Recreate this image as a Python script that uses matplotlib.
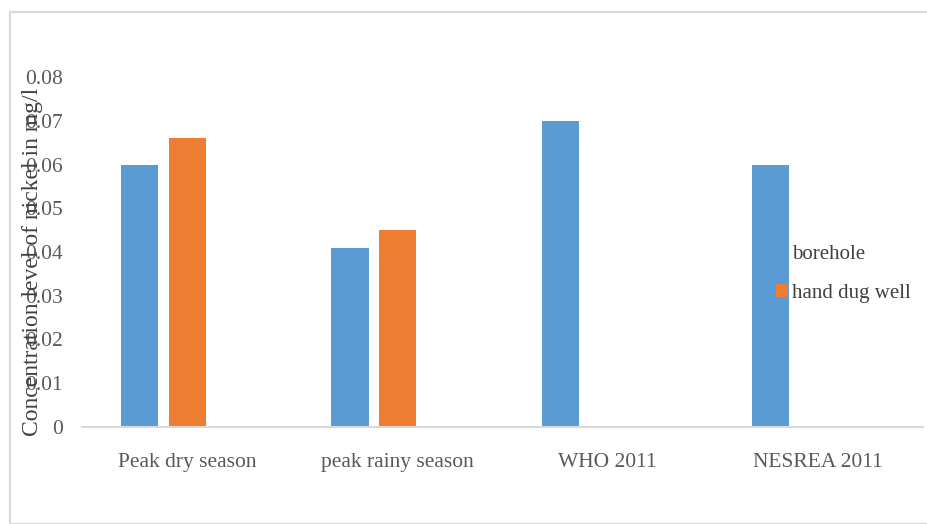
import numpy as np
import matplotlib
matplotlib.use("Agg")
import matplotlib.pyplot as plt
from matplotlib.patches import Rectangle

categories = ["Peak dry season", "peak rainy season", "WHO 2011", "NESREA 2011"]
borehole = [0.060, 0.041, 0.070, 0.060]
hand_dug_well = [0.066, 0.045, np.nan, np.nan]
y_ticks = [0, 0.01, 0.02, 0.03, 0.04, 0.05, 0.06, 0.07, 0.08]
y_tick_labels = ["0", "0.01", "0.02", "0.03", "0.04", "0.05", "0.06", "0.07", "0.08"]

plt.rcParams["font.family"] = ["Liberation Serif", "DejaVu Serif"]

W, H = 928, 524
fig = plt.figure(figsize=(W / 100, H / 100), dpi=100)
fig.patch.set_facecolor("white")

# light outer frame of the chart area
fig.patches.append(Rectangle((10 / W, 0), 1.0, 1 - 12 / H, transform=fig.transFigure,
                             fill=False, edgecolor="#D9D9D9", linewidth=1.6))

ax = fig.add_axes([82 / W, 97 / H, (923 - 82) / W, (427 - 77) / H])

x = np.arange(len(categories))
width = 0.177
step = 0.225
ax.bar(x - step, borehole, width, color="#5B9BD5", label="borehole", zorder=2)
ax.bar(x, hand_dug_well, width, color="#ED7D31", label="hand dug well", zorder=2)

ax.set_xlim(-0.5, len(categories) - 0.5)
ax.set_ylim(0, 0.08)
ax.set_yticks(y_ticks)
ax.set_yticklabels(y_tick_labels)
ax.set_xticks(x)
ax.set_xticklabels(categories)

for s in ["top", "right", "left"]:
    ax.spines[s].set_visible(False)
ax.spines["bottom"].set_color("#D9D9D9")
ax.spines["bottom"].set_linewidth(1.5)

ax.tick_params(axis="y", length=0, pad=14, labelsize=15.5, labelcolor="#595959")
ax.tick_params(axis="x", length=0, pad=19, labelsize=15.5, labelcolor="#595959")

ax.set_ylabel("Concentration level of nickel in mg/l", fontsize=17, color="#404040")
ax.yaxis.set_label_coords(-0.0465, 0.471)

leg = ax.legend(loc="center left", bbox_to_anchor=(757 / W, (524 - 274) / H),
                bbox_transform=fig.transFigure,
                frameon=False, fontsize=15, handlelength=0.6, handleheight=0.6,
                handletextpad=0.2, labelspacing=0.95, labelcolor="#404040")
leg.set_zorder(5)

fig.savefig("out.png", dpi=100)
